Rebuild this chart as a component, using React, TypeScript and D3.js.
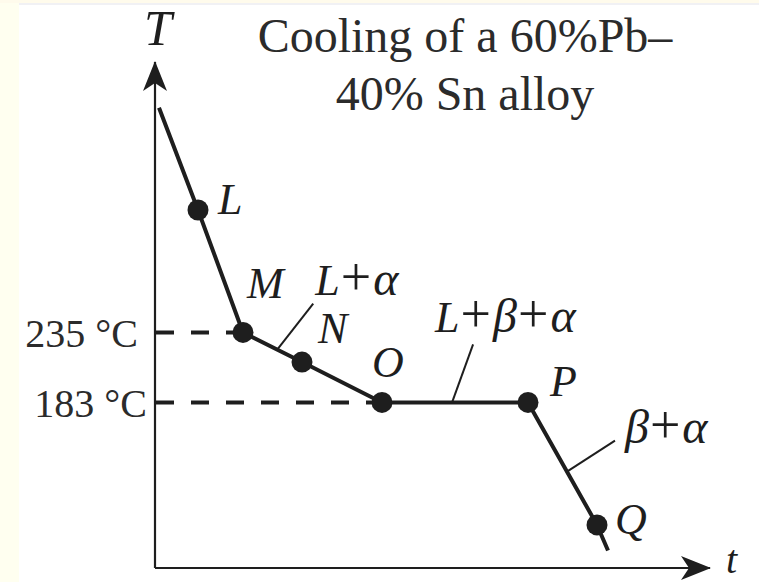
import React from "react";
import * as d3 from "d3";

// Cooling curve of a 60%Pb–40%Sn alloy: temperature (°C) vs. time (arbitrary units)
const coolingTime = [0.8, 8.6, 17.6, 29.4, 45.4, 74.6, 88.4, 90.6];
const coolingTemp = [402, 326, 235, 213, 183, 183, 92, 73];
const pointLabels = ["", "L", "M", "N", "O", "P", "Q", ""];

// Reference temperatures marked on the T axis
const tempTicks = [235, 183];
const tempTickLabels = ["235 °C", "183 °C"];

// Phase regions along the curve: segment start index and position along it
const phaseNames = ["L+α", "L+β+α", "β+α"];
const phaseSegment = [2, 4, 5];
const phaseFraction = [0.58, 0.48, 0.565];

const titleLines = ["Cooling of a 60%Pb–", "40% Sn alloy"];

const W = 759;
const H = 582;
const INK = "#1e1e1e";
const FONT = "'Liberation Serif', 'Times New Roman', serif";

export default function App() {
  const x = d3.scaleLinear().domain([0, 110]).range([155, 705]);
  const y = d3.scaleLinear().domain([60, 400]).range([568, 568 - 340 * 1.346]);

  const pts = coolingTime.map((t, i) => [x(t), y(coolingTemp[i])] as [number, number]);
  const line = d3.line<[number, number]>();

  const x0 = x(0);
  const y0 = y(60);
  const axisTop = y(60 + (568 - 62) / 1.346);
  const axisRight = x(111);

  // per-point label offsets (dx, dy from the dot centre)
  const labelOffset: Record<string, [number, number]> = {
    L: [20, 4],
    M: [4, -34],
    N: [16, -19],
    O: [-10, -25],
    P: [22, -6],
    Q: [18, 9],
  };

  // leader geometry for each phase label
  const leaderEnd: [number, number][] = [
    [36, -46],
    [21, -58],
    [48, -31],
  ];
  const labelShift: [number, number][] = [
    [2, -9],
    [-38, -12],
    [10, 2],
  ];

  const tickLabelEnd = [138, 147];

  const renderPhase = (s: string) =>
    s.split("").map((ch, k) => {
      if (ch === "+") {
        return (
          <tspan key={k} fontStyle="normal" fontSize={54} dx={1}>
            +
          </tspan>
        );
      }
      const greek = ch === "α" || ch === "β";
      return (
        <tspan key={k} fontStyle="italic" fontSize={greek ? 48 : 44} dx={k === 0 ? 0 : 2}>
          {ch}
        </tspan>
      );
    });

  return (
    <svg
      width={W}
      height={H}
      viewBox={`0 0 ${W} ${H}`}
      style={{ position: "absolute", left: 0, top: 0, background: "#ffffff" }}
      fontFamily={FONT}
    >
      <defs>
        <marker
          id="arrow"
          viewBox="0 0 30 24"
          refX={29}
          refY={12}
          markerWidth={30}
          markerHeight={24}
          markerUnits="userSpaceOnUse"
          orient="auto"
        >
          <path d="M0,0 L30,12 L0,24 L8,12 Z" fill={INK} />
        </marker>
      </defs>

      {/* page edge */}
      <rect x={0} y={0} width={19} height={H} fill="#fffff0" />
      <rect x={0} y={0} width={W} height={3} fill="#fffbec" />
      <rect x={19} y={3} width={W - 19} height={2} fill="#f1f1f4" />

      {/* title */}
      {titleLines.map((t, i) => (
        <text
          key={i}
          x={465}
          y={52 + i * 58}
          textAnchor="middle"
          fontSize={48}
          fill="#2b2b2b"
        >
          {t}
        </text>
      ))}

      {/* axes */}
      <line x1={x0} y1={y0} x2={x0} y2={axisTop} stroke={INK} strokeWidth={2.2} markerEnd="url(#arrow)" />
      <line x1={x0} y1={y0} x2={axisRight} y2={y0} stroke={INK} strokeWidth={2.2} markerEnd="url(#arrow)" />
      <text x={158} y={45} textAnchor="middle" fontSize={50} fontStyle="italic" fill={INK}>
        T
      </text>
      <text x={726} y={573} fontSize={40} fontStyle="italic" fill={INK}>
        t
      </text>

      {/* reference temperatures */}
      {tempTicks.map((tv, i) => {
        const idx = coolingTemp.indexOf(tv);
        return (
          <g key={tv}>
            <line
              x1={x0 + 1}
              y1={y(tv)}
              x2={pts[idx][0]}
              y2={y(tv)}
              stroke={INK}
              strokeWidth={4}
              strokeDasharray="18 17"
            />
            <text
              x={tickLabelEnd[i]}
              y={y(tv) + 15}
              textAnchor="end"
              fontSize={40}
              fill="#2b2b2b"
            >
              {tempTickLabels[i]}
            </text>
          </g>
        );
      })}

      {/* leaders for phase regions */}
      {phaseNames.map((name, i) => {
        const s = phaseSegment[i];
        const f = phaseFraction[i];
        const ax = pts[s][0] + (pts[s + 1][0] - pts[s][0]) * f;
        const ay = pts[s][1] + (pts[s + 1][1] - pts[s][1]) * f;
        const ex = ax + leaderEnd[i][0];
        const ey = ay + leaderEnd[i][1];
        return (
          <g key={name}>
            <line x1={ax} y1={ay} x2={ex} y2={ey} stroke={INK} strokeWidth={2} />
            <text x={ex + labelShift[i][0]} y={ey + labelShift[i][1]} fontSize={44} fill={INK}>
              {renderPhase(name)}
            </text>
          </g>
        );
      })}

      {/* cooling curve */}
      <path d={line(pts) || ""} fill="none" stroke={INK} strokeWidth={4} strokeLinejoin="round" />

      {/* state points */}
      {pts.map((p, i) =>
        pointLabels[i] ? (
          <g key={i}>
            <circle cx={p[0]} cy={p[1]} r={10.5} fill={INK} />
            <text
              x={p[0] + labelOffset[pointLabels[i]][0]}
              y={p[1] + labelOffset[pointLabels[i]][1]}
              fontSize={44}
              fontStyle="italic"
              fill={INK}
            >
              {pointLabels[i]}
            </text>
          </g>
        ) : null
      )}
    </svg>
  );
}
